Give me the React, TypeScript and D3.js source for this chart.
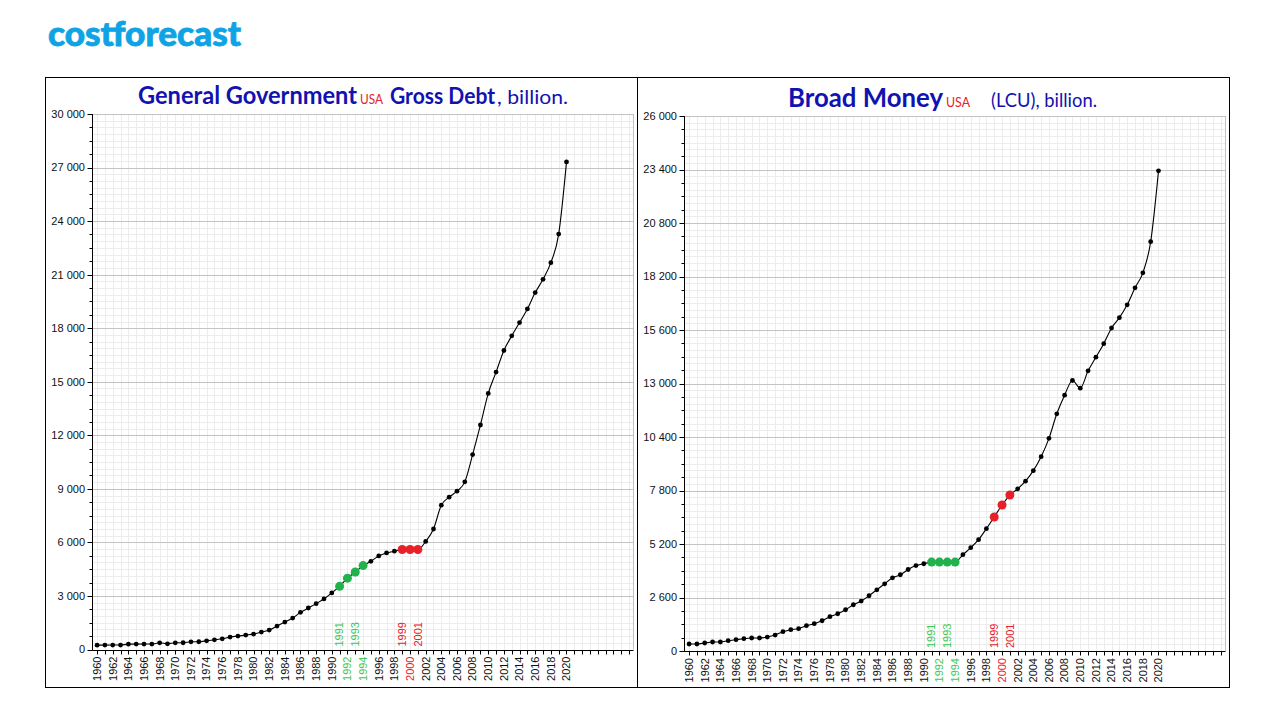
import React from 'react';
import * as d3 from 'd3';

const years = [
  1960, 1961, 1962, 1963, 1964, 1965, 1966, 1967, 1968, 1969,
  1970, 1971, 1972, 1973, 1974, 1975, 1976, 1977, 1978, 1979,
  1980, 1981, 1982, 1983, 1984, 1985, 1986, 1987, 1988, 1989,
  1990, 1991, 1992, 1993, 1994, 1995, 1996, 1997, 1998, 1999,
  2000, 2001, 2002, 2003, 2004, 2005, 2006, 2007, 2008, 2009,
  2010, 2011, 2012, 2013, 2014, 2015, 2016, 2017, 2018, 2019, 2020,
];

const debtValues = [
  244, 246, 248, 250, 300, 302, 304, 306, 375, 319,
  375, 378, 431, 435, 487, 544, 600, 694, 750, 806,
  863, 975, 1088, 1313, 1538, 1763, 2081, 2325, 2569, 2831,
  3169, 3540, 3995, 4340, 4700, 4941, 5242, 5411, 5507, 5600,
  5600, 5600, 6056, 6752, 8087, 8534, 8870, 9391, 10919, 12578,
  14348, 15540, 16752, 17571, 18317, 19080, 19994, 20739, 21671, 23273, 27317,
];

const moneyValues = [
  340, 340, 388, 437, 437, 501, 550, 598, 631, 631,
  679, 776, 938, 1035, 1083, 1229, 1326, 1471, 1666, 1811,
  2005, 2248, 2426, 2684, 2975, 3266, 3557, 3705, 3960, 4150,
  4240, 4320, 4320, 4320, 4320, 4680, 5020, 5409, 5944, 6512,
  7095, 7580, 7880, 8252, 8765, 9445, 10335, 11527, 12433, 13146,
  12773, 13615, 14279, 14936, 15697, 16199, 16824, 17650, 18378, 19893, 23335,
];

const debtTicks = [0, 3000, 6000, 9000, 12000, 15000, 18000, 21000, 24000, 27000, 30000];
const moneyTicks = [0, 2600, 5200, 7800, 10400, 13000, 15600, 18200, 20800, 23400, 26000];

const xLabelYears = [
  1960, 1962, 1964, 1966, 1968, 1970, 1972, 1974, 1976, 1978,
  1980, 1982, 1984, 1986, 1988, 1990, 1992, 1994, 1996, 1998,
  2000, 2002, 2004, 2006, 2008, 2010, 2012, 2014, 2016, 2018, 2020,
];
const greenYears = [1991, 1992, 1993, 1994];
const redYears = [1999, 2000, 2001];

const GREEN_DOT = '#22b24c';
const GREEN_TXT = '#3cc853';
const RED_DOT = '#e8202a';
const RED_TXT = '#e8202a';
const TICK_FONT = '"Liberation Sans", Arial, sans-serif';
const TITLE_FONT = 'Lato, "Open Sans", sans-serif';
const BLUE = '#1212b0';

const fmt = (v: number) => d3.format(',')(v).replace(/,/g, ' ');

type Seg = { text: string; x: number; w: number; size: number; weight: number; color: string };

const leftTitleSegs: Seg[] = [
  { text: 'General Government', x: 138, w: 219, size: 24, weight: 700, color: BLUE },
  { text: 'USA', x: 360, w: 23, size: 13, weight: 400, color: '#e8202a' },
  { text: 'Gross Debt', x: 390, w: 105, size: 22, weight: 700, color: BLUE },
  { text: ', billion.', x: 497, w: 71, size: 20, weight: 400, color: BLUE },
];
const rightTitleSegs: Seg[] = [
  { text: 'Broad Money', x: 788, w: 155, size: 26, weight: 700, color: BLUE },
  { text: 'USA', x: 946, w: 24, size: 13, weight: 400, color: '#e8202a' },
  { text: '(LCU), billion.', x: 991, w: 106, size: 19, weight: 400, color: BLUE },
];

function Title({ segs, y }: { segs: Seg[]; y: number }) {
  return (
    <g>
      {segs.map((s, i) => (
        <text
          key={i}
          x={s.x}
          y={y}
          fontFamily={TITLE_FONT}
          fontSize={s.size}
          fontWeight={s.weight}
          fill={s.color}
          textLength={s.w}
          lengthAdjust="spacingAndGlyphs"
        >
          {s.text}
        </text>
      ))}
    </g>
  );
}

type PanelProps = {
  box: { x: number; y: number; w: number; h: number };
  plot: { left: number; right: number; top: number; bottom: number };
  values: number[];
  ticks: number[];
  title: React.ReactNode;
};

function Panel({ box, plot, values, ticks, title }: PanelProps) {
  const maxV = ticks[ticks.length - 1];
  const major = ticks[1] - ticks[0];
  const x = d3.scaleLinear().domain([1959.35, 2028.5]).range([plot.left, plot.right]);
  const y = d3.scaleLinear().domain([0, maxV]).range([plot.bottom, plot.top]);
  const pts = years.map((yr, i) => ({ yr, v: values[i] }));
  const line = d3
    .line<{ yr: number; v: number }>()
    .x((d) => x(d.yr))
    .y((d) => y(d.v))
    .curve(d3.curveMonotoneX);

  const crisp = (p: number) => Math.round(p) + 0.5;
  const minorGridY = d3.range(0, maxV + 1e-6, major / 8);
  const minorTickY = d3.range(0, maxV + 1e-6, major / 4);
  const gridYears = d3.range(1960, 2029);

  const colorOf = (yr: number) =>
    greenYears.includes(yr) ? GREEN_TXT : redYears.includes(yr) ? RED_TXT : '#111';
  const aboveYears = [...greenYears, ...redYears].filter((yr) => yr % 2 === 1);

  return (
    <g>
      <rect x={box.x + 0.5} y={box.y + 0.5} width={box.w} height={box.h} fill="#fff" stroke="#000" strokeWidth={1} />
      {title}
      {gridYears.map((yr) => (
        <line key={'vg' + yr} x1={crisp(x(yr))} x2={crisp(x(yr))} y1={plot.top} y2={plot.bottom} stroke="#ececec" strokeWidth={1} />
      ))}
      {minorGridY.map((v) => (
        <line key={'hg' + v} x1={plot.left} x2={plot.right} y1={crisp(y(v))} y2={crisp(y(v))} stroke="#ececec" strokeWidth={1} />
      ))}
      {ticks.map((v) => (
        <line key={'mg' + v} x1={plot.left} x2={plot.right} y1={crisp(y(v))} y2={crisp(y(v))} stroke="#c3c3c3" strokeWidth={1} />
      ))}
      <line x1={crisp(plot.right)} x2={crisp(plot.right)} y1={plot.top} y2={plot.bottom} stroke="#c3c3c3" strokeWidth={1} />
      <line x1={crisp(plot.left)} x2={crisp(plot.left)} y1={plot.top} y2={crisp(plot.bottom)} stroke="#000" strokeWidth={1} />
      {minorTickY.map((v) => (
        <line key={'mt' + v} x1={crisp(plot.left) - 3} x2={crisp(plot.left)} y1={crisp(y(v))} y2={crisp(y(v))} stroke="#000" strokeWidth={1} />
      ))}
      {ticks.map((v) => (
        <g key={'yt' + v}>
          <line x1={crisp(plot.left) - 5} x2={crisp(plot.left)} y1={crisp(y(v))} y2={crisp(y(v))} stroke="#000" strokeWidth={1} />
          <text x={plot.left - 7} y={y(v)} dy="0.35em" textAnchor="end" fontFamily={TICK_FONT} fontSize={11} fill="#111">
            {fmt(v)}
          </text>
        </g>
      ))}
      <line x1={crisp(plot.left)} x2={crisp(plot.right)} y1={crisp(plot.bottom)} y2={crisp(plot.bottom)} stroke="#000" strokeWidth={1} />
      {gridYears.map((yr) => (
        <line key={'xt' + yr} x1={crisp(x(yr))} x2={crisp(x(yr))} y1={crisp(plot.bottom)} y2={crisp(plot.bottom) + 4} stroke="#000" strokeWidth={1} />
      ))}
      {xLabelYears.map((yr) => (
        <text
          key={'xl' + yr}
          transform={`translate(${x(yr)},${plot.bottom + 7}) rotate(-90)`}
          dy="0.35em"
          textAnchor="end"
          fontFamily={TICK_FONT}
          fontSize={11}
          fill={colorOf(yr)}
        >
          {yr}
        </text>
      ))}
      {aboveYears.map((yr) => (
        <text
          key={'al' + yr}
          transform={`translate(${x(yr)},${plot.bottom - 3}) rotate(-90)`}
          dy="0.35em"
          textAnchor="start"
          fontFamily={TICK_FONT}
          fontSize={11}
          fill={colorOf(yr)}
        >
          {yr}
        </text>
      ))}
      <path d={line(pts) || ''} fill="none" stroke="#000" strokeWidth={1.1} />
      {pts.map((p) => {
        const g = greenYears.includes(p.yr);
        const r = redYears.includes(p.yr);
        return (
          <circle
            key={'pt' + p.yr}
            cx={x(p.yr)}
            cy={y(p.v)}
            r={g || r ? 4.5 : 2.4}
            fill={g ? GREEN_DOT : r ? RED_DOT : '#000'}
          />
        );
      })}
    </g>
  );
}

export default function App() {
  return (
    <svg width={1276} height={718} style={{ position: 'absolute', left: 0, top: 0, background: '#fff' }}>
      <rect x={0} y={0} width={1276} height={718} fill="#fff" />
      <text
        x={48}
        y={46}
        fontFamily={TITLE_FONT}
        fontWeight={900}
        fontSize={34}
        fill="#0ea3e4"
        stroke="#0ea3e4"
        strokeWidth={0.8}
        textLength={193}
        lengthAdjust="spacingAndGlyphs"
      >
        costforecast
      </text>
      <Panel
        box={{ x: 45, y: 77, w: 592, h: 610 }}
        plot={{ left: 92, right: 633, top: 114, bottom: 649.5 }}
        values={debtValues}
        ticks={debtTicks}
        title={<Title segs={leftTitleSegs} y={104} />}
      />
      <Panel
        box={{ x: 637, y: 77, w: 592, h: 610 }}
        plot={{ left: 684, right: 1225, top: 116, bottom: 651 }}
        values={moneyValues}
        ticks={moneyTicks}
        title={<Title segs={rightTitleSegs} y={107} />}
      />
    </svg>
  );
}
